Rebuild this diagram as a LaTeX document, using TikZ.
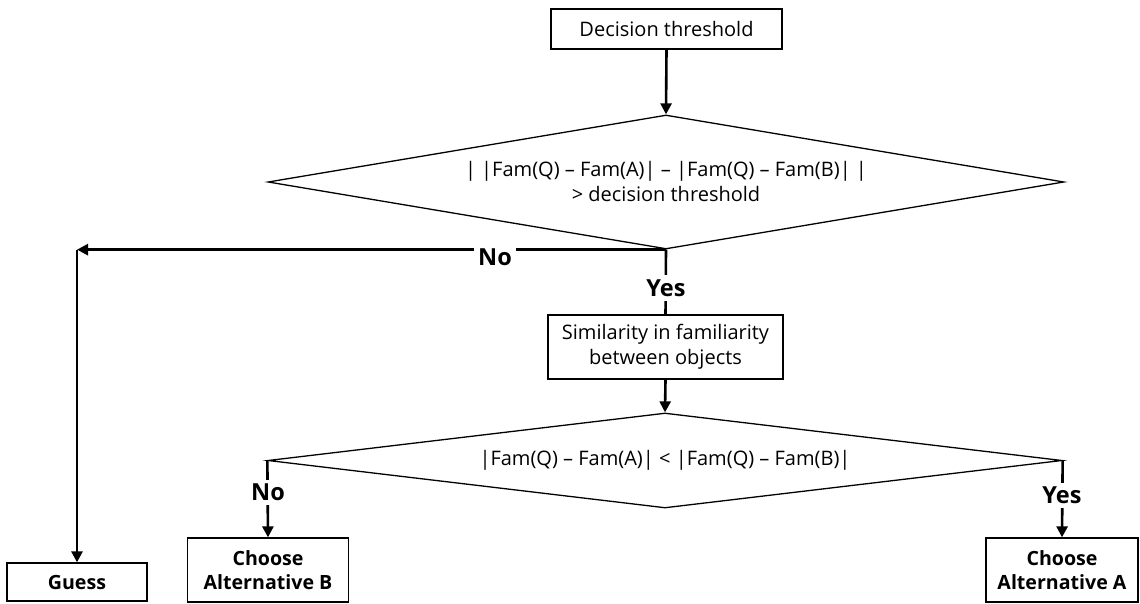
\documentclass[tikz,border=0pt]{standalone}
\usepackage{fontspec}
\setmainfont{Open Sans}
\usetikzlibrary{arrows.meta,shapes.geometric}
\begin{document}
\begin{tikzpicture}[x=1pt,y=-1pt,
  every node/.style={font=\fontsize{20}{25}\selectfont},
  box/.style={draw, line width=1.3pt, inner sep=0pt, align=center},
  decision/.style={draw, diamond, line width=1.3pt, inner sep=0pt, align=center},
  result/.style={box, font=\bfseries\fontsize{19.6}{24}\selectfont},
  flow/.style={line width=2.6pt, -{Triangle[length=11pt,width=11pt]}},
  plain/.style={line width=2.6pt},
  tag/.style={fill=white, inner sep=4pt, font=\bfseries\fontsize{23.5}{26}\selectfont}]
\useasboundingbox[fill=white] (0,0) rectangle (1140,604);

% process boxes and decisions
\node[box, minimum width=231pt, minimum height=40pt] (thr) at (666.5,29) {Decision threshold};
\node[decision, aspect=5.94, minimum width=796pt, minimum height=134pt] (d1) at (666,182)
  {| |Fam(Q) – Fam(A)| – |Fam(Q) – Fam(B)| |\\> decision threshold};
\node[box, minimum width=235pt, minimum height=64pt] (sim) at (665.5,347)
  {Similarity in familiarity\\between objects};
\node[decision, aspect=8.36, minimum width=794pt, minimum height=95pt] (d2) at (665,460.5)
  {|Fam(Q) – Fam(A)| < |Fam(Q) – Fam(B)|};

% outcomes
\node[result, minimum width=140pt, minimum height=38pt] (guess) at (77,582) {Guess};
\node[result, minimum width=161pt, minimum height=64pt] (altB) at (268,570) {Choose\\Alternative B};
\node[result, minimum width=152pt, minimum height=64pt] (altA) at (1062,570) {Choose\\Alternative A};
\coordinate (turn) at (guess.north |- d1.south);

% connectors
\draw[flow] (thr.south) -- (d1.north);
\draw[flow] (d1.south) -- (turn);
\draw[flow] (turn) -- (guess.north);
\draw[plain] (d1.south) -- (sim.north);
\draw[flow] (sim.south) -- (d2.north);
\draw[flow] (d2.west) -- (altB.north);
\draw[flow] (d2.east) -- (altA.north);

% branch labels
\node[tag] (no1) at (495,257) {No};
\node[tag] (yes1) at (666,288) {Yes};
\node[tag] (no2) at (268,492) {No};
\node[tag] (yes2) at (1062,495) {Yes};
\end{tikzpicture}
\end{document}
